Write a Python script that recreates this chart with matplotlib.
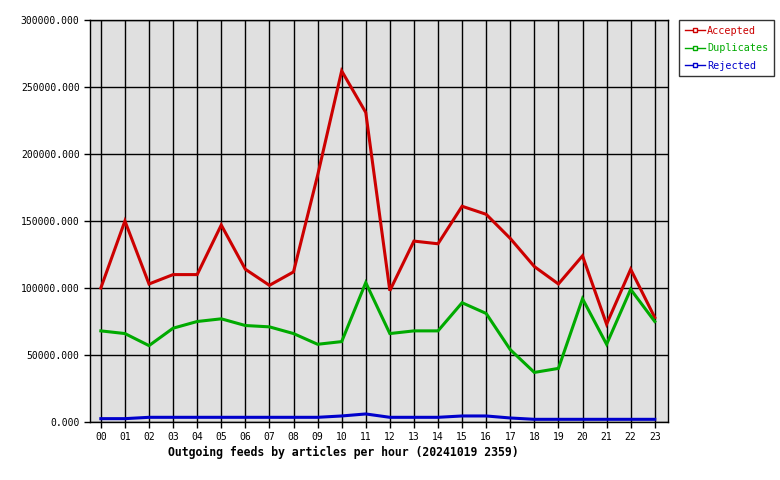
import matplotlib
matplotlib.use("Agg")
import matplotlib.pyplot as plt
from matplotlib.ticker import FormatStrFormatter

hours = ["%02d" % h for h in range(24)]
accepted = [100000, 150000, 103000, 110000, 110000, 147000, 114000, 102000,
            112000, 184000, 262000, 231000, 98000, 135000, 133000, 161000,
            155000, 137000, 116000, 103000, 124000, 73000, 114000, 78000]
duplicates = [68000, 66000, 57000, 70000, 75000, 77000, 72000, 71000,
              66000, 58000, 60000, 104000, 66000, 68000, 68000, 89000,
              81000, 54000, 37000, 40000, 92000, 58000, 99000, 75000]
rejected = [2500, 2500, 3500, 3500, 3500, 3500, 3500, 3500,
            3500, 3500, 4500, 6000, 3500, 3500, 3500, 4500,
            4500, 3000, 2000, 2000, 2000, 2000, 2000, 2000]

series = [("Accepted", accepted, "#CC0000"),
          ("Duplicates", duplicates, "#00AA00"),
          ("Rejected", rejected, "#0000CC")]

plt.rcParams["font.family"] = ["DejaVu Sans Mono"]

fig = plt.figure(figsize=(7.8, 4.8), dpi=100)
ax = fig.add_axes([90 / 780, 58 / 480, 578 / 780, 402 / 480])
ax.set_facecolor("#E0E0E0")

x = list(range(len(hours)))
for name, vals, col in series:
    ax.plot(x, vals, color=col, lw=2.2, label=name, solid_joinstyle="miter")

ax.set_xlim(-0.45, 23.55)
ax.set_ylim(0, 300000)
ax.set_xticks(x)
ax.set_xticklabels(hours, fontsize=7)
ax.set_yticks(range(0, 300001, 50000))
ax.yaxis.set_major_formatter(FormatStrFormatter("%.3f"))
ax.tick_params(axis="y", labelsize=7, length=4, width=1, direction="out")
ax.tick_params(axis="x", length=4, width=1, direction="out")
ax.grid(True, color="black", lw=1)
ax.set_axisbelow(True)
for s in ax.spines.values():
    s.set_linewidth(1)

# caption sits below the axis
fig.text(343 / 780, 1 - 452 / 480, "Outgoing feeds by articles per hour (20241019 2359)",
         ha="center", va="center", fontsize=8.3, fontweight="bold")

handles = [plt.Line2D([], [], color=col, lw=1, marker="s", markersize=2.5,
                      markerfacecolor="white", markeredgecolor=col)
           for _, _, col in series]
leg = fig.legend(handles, [s[0] for s in series], loc="upper left",
                 bbox_to_anchor=(679 / 780, 1 - 20 / 480), fontsize=7.3,
                 frameon=True, fancybox=False, edgecolor="black",
                 handlelength=2, handletextpad=0.2, borderpad=0.55,
                 borderaxespad=0, labelspacing=0.75)
leg.get_frame().set_linewidth(1)
for t, (_, _, col) in zip(leg.get_texts(), series):
    t.set_color(col)

fig.savefig("out.png", dpi=100)
